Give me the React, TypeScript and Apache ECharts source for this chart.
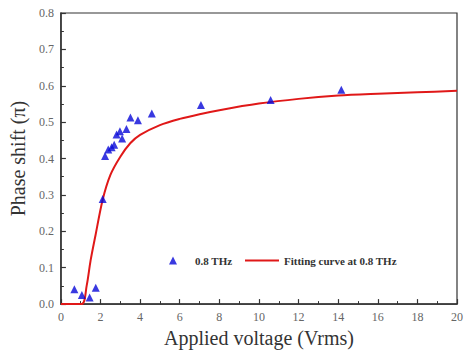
import React, { useEffect, useRef } from "react";
import * as echarts from "echarts";

const measuredX = [0.68, 1.06, 1.45, 1.76, 2.11, 2.23, 2.39, 2.56, 2.69, 2.81, 2.98, 3.09, 3.31, 3.51, 3.89, 4.59, 7.07, 10.59, 14.16];
const measuredY = [0.041, 0.025, 0.018, 0.045, 0.289, 0.407, 0.425, 0.431, 0.438, 0.466, 0.475, 0.455, 0.481, 0.513, 0.505, 0.524, 0.547, 0.561, 0.589];

const fitX = [0, 1.05, 1.3, 1.5, 1.75, 2.1, 2.5, 3, 3.5, 4, 5, 6, 7, 8, 10, 12, 14, 16, 18, 20];
const fitY = [0, 0, 0.05, 0.12, 0.19, 0.285, 0.355, 0.405, 0.442, 0.465, 0.492, 0.509, 0.522, 0.533, 0.551, 0.564, 0.573, 0.578, 0.582, 0.586];

const seriesNames = ["0.8 THz", "Fitting curve at 0.8 THz"];
const xTitle = "Applied voltage (Vrms)";
const yTitle = "Phase shift (\u03c0)";

export default function App() {
  const ref = useRef<HTMLDivElement>(null);
  useEffect(() => {
    if (!ref.current) return;
    const chart = echarts.init(ref.current, undefined, { renderer: "svg" });
    const serif = "'Liberation Serif', 'DejaVu Serif', 'Times New Roman', serif";
    const axisCommon = {
      axisLine: { show: true, lineStyle: { color: "#333", width: 1.5 } },
      axisTick: { show: true, inside: true, length: 5, lineStyle: { color: "#333", width: 1.2 } },
      minorTick: { show: true, splitNumber: 2, length: 3, lineStyle: { color: "#333", width: 1 } },
      splitLine: { show: false },
      nameTextStyle: { fontFamily: serif, fontSize: 20, color: "#333" },
    };
    chart.setOption({
      animation: false,
      backgroundColor: "#fff",
      textStyle: { fontFamily: serif },
      grid: { left: 57, right: 8, top: 13, bottom: 44.5, show: true, borderColor: "#333", borderWidth: 1.2, backgroundColor: "transparent" },
      legend: [
        {
          data: [{ name: seriesNames[0], icon: "triangle" }],
          left: 164,
          top: 250,
          itemWidth: 8,
          itemHeight: 8,
          textStyle: { fontFamily: serif, fontSize: 11, fontWeight: "bold", color: "#333", padding: [0, 0, 0, 13] },
        },
        {
          data: [{ name: seriesNames[1], icon: "rect" }],
          left: 240,
          top: 250,
          itemWidth: 34,
          itemHeight: 2,
          textStyle: { fontFamily: serif, fontSize: 11, fontWeight: "bold", color: "#333" },
        },
      ],
      xAxis: {
        type: "value",
        min: 0,
        max: 20,
        interval: 2,
        name: xTitle,
        nameLocation: "middle",
        nameGap: 20,
        ...axisCommon,
        axisLabel: { fontFamily: serif, fontSize: 12, color: "#666", margin: 7 },
      },
      yAxis: {
        type: "value",
        min: 0,
        max: 0.8,
        interval: 0.1,
        name: yTitle,
        nameLocation: "middle",
        nameGap: 31,
        ...axisCommon,
        axisLabel: { fontFamily: serif, fontSize: 12, color: "#666", margin: 7, formatter: (v: number) => v.toFixed(1) },
      },
      series: [
        {
          name: seriesNames[0],
          type: "scatter",
          symbol: "triangle",
          symbolSize: 8,
          itemStyle: { color: "#0808d8" },
          data: measuredX.map((x, i) => [x, measuredY[i]]),
          z: 3,
        },
        {
          name: seriesNames[1],
          type: "line",
          smooth: 0.3,
          showSymbol: false,
          symbol: "none",
          lineStyle: { color: "#e01818", width: 2 },
          itemStyle: { color: "#e01818" },
          data: fitX.map((x, i) => [x, fitY[i]]),
          z: 2,
        },
      ],
    });
    return () => chart.dispose();
  }, []);
  return <div ref={ref} style={{ width: 466, height: 353, position: "absolute", left: 0, top: 0 }} />;
}
